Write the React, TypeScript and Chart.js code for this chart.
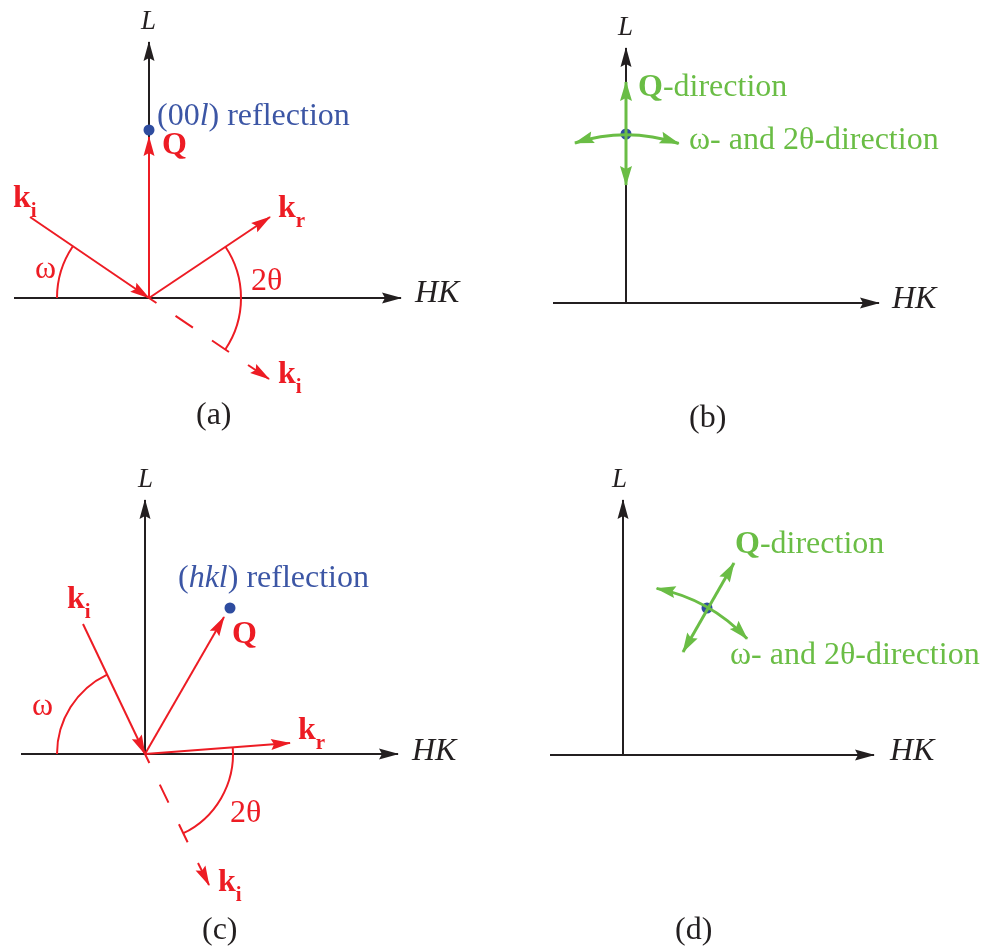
import React, { useEffect, useRef } from 'react';
import { Chart, registerables } from 'chart.js';

Chart.register(...registerables);

const W = 983;
const H = 949;
const BLACK = '#231f20';
const RED = '#ed1c24';
const BLUE = '#2e4c9f';
const BLUE_TEXT = '#3c56a5';
const GREEN = '#6abd45';
const FONT = '"Liberation Serif", "Times New Roman", serif';
const FS = 32;
const SUB_FS = 21;
const L_FS = 27;

// Axes [x1, y1, x2, y2] (arrowhead at x2, y2)
const axisLines: number[][] = [
  [149, 298, 149, 42], [14, 298, 401, 298],
  [626, 303, 626, 48], [553, 303, 879, 303],
  [145, 754, 145, 500], [21, 754, 398, 754],
  [623, 755, 623, 500], [550, 755, 874, 755],
];

// Red scattering vectors [x1, y1, x2, y2] (arrowhead at x2, y2)
const redVectors: number[][] = [
  [149, 298, 149, 137],
  [30, 217, 149, 298],
  [149, 298, 270, 217],
  [248, 365, 269, 379],
  [145, 754, 224, 617],
  [83, 624, 145, 754],
  [145, 754, 290, 743],
  [198, 863, 209, 885],
];

// Dashed continuation of incoming beam [x1, y1, x2, y2]
const dashedRays: number[][] = [
  [149, 298, 229, 352],
  [145, 754, 188, 843],
];
const dashPatterns: number[][] = [[21, 23], [20, 24]];
const dashOffsets: number[] = [12, 10];

// Reflection positions
const reflections = [
  { x: 149, y: 130 },
  { x: 230, y: 608 },
  { x: 626, y: 134 },
  { x: 707, y: 608 },
];

// Green double arrows (Q-direction)
const greenDoubleArrows: number[][] = [
  [626, 82, 626, 185],
  [734, 563, 683, 652],
];

// Angle arcs (centre, radius, from / to angle in screen degrees)
const redArcs = [
  { cx: 149, cy: 298, r: 92, from: 180, to: 214 },
  { cx: 149, cy: 298, r: 92, from: -34, to: 34 },
  { cx: 145, cy: 754, r: 88, from: 180, to: 244.5 },
  { cx: 145, cy: 754, r: 88, from: -4.3, to: 64.5 },
];
const greenArcs = [
  { cx: 626, cy: 303, r: 168, from: -107.7, to: -71.7 },
  { cx: 623, cy: 755, r: 170, from: -78.6, to: -43.1 },
];

type Run = { t: string; b?: boolean; i?: boolean; sub?: boolean; s?: number };
type Label = { x: number; y: number; c: string; runs: Run[] };

const kLabel = (x: number, y: number, s: string): Label => ({
  x, y, c: RED, runs: [{ t: 'k', b: true }, { t: s, b: true, sub: true }],
});
const lLabel = (x: number, y: number): Label => ({
  x, y, c: BLACK, runs: [{ t: 'L', i: true, s: L_FS }],
});

const labels: Label[] = [
  // (a)
  lLabel(141, 29),
  { x: 157, y: 125, c: BLUE_TEXT, runs: [{ t: '(00' }, { t: 'l', i: true }, { t: ') reflection' }] },
  { x: 162, y: 154, c: RED, runs: [{ t: 'Q', b: true }] },
  kLabel(13, 207, 'i'),
  kLabel(278, 217, 'r'),
  { x: 35, y: 278, c: RED, runs: [{ t: 'ω' }] },
  { x: 251, y: 290, c: RED, runs: [{ t: '2θ' }] },
  { x: 415, y: 302, c: BLACK, runs: [{ t: 'HK', i: true }] },
  kLabel(278, 383, 'i'),
  { x: 196, y: 424, c: BLACK, runs: [{ t: '(a)' }] },
  // (b)
  lLabel(618, 35),
  { x: 638, y: 96, c: GREEN, runs: [{ t: 'Q', b: true }, { t: '-direction' }] },
  { x: 689, y: 149, c: GREEN, runs: [{ t: 'ω- and 2θ-direction' }] },
  { x: 892, y: 308, c: BLACK, runs: [{ t: 'HK', i: true }] },
  { x: 689, y: 427, c: BLACK, runs: [{ t: '(b)' }] },
  // (c)
  lLabel(138, 487),
  { x: 178, y: 587, c: BLUE_TEXT, runs: [{ t: '(' }, { t: 'hkl', i: true }, { t: ') reflection' }] },
  { x: 232, y: 643, c: RED, runs: [{ t: 'Q', b: true }] },
  kLabel(67, 608, 'i'),
  { x: 32, y: 715, c: RED, runs: [{ t: 'ω' }] },
  kLabel(298, 739, 'r'),
  { x: 412, y: 760, c: BLACK, runs: [{ t: 'HK', i: true }] },
  { x: 230, y: 822, c: RED, runs: [{ t: '2θ' }] },
  kLabel(218, 891, 'i'),
  { x: 202, y: 939, c: BLACK, runs: [{ t: '(c)' }] },
  // (d)
  lLabel(612, 487),
  { x: 735, y: 553, c: GREEN, runs: [{ t: 'Q', b: true }, { t: '-direction' }] },
  { x: 730, y: 664, c: GREEN, runs: [{ t: 'ω- and 2θ-direction' }] },
  { x: 890, y: 760, c: BLACK, runs: [{ t: 'HK', i: true }] },
  { x: 675, y: 939, c: BLACK, runs: [{ t: '(d)' }] },
];

function seg(s: number[], color: string, width: number, extra: any = {}) {
  return {
    type: 'scatter',
    data: [{ x: s[0], y: s[1] }, { x: s[2], y: s[3] }],
    showLine: true,
    borderColor: color,
    backgroundColor: color,
    borderWidth: width,
    borderCapStyle: 'butt',
    pointRadius: 0,
    pointHoverRadius: 0,
    clip: false,
    ...extra,
  };
}

function drawHead(ctx: CanvasRenderingContext2D, fx: number, fy: number, tx: number, ty: number, len: number, half: number, color: string) {
  const dx = tx - fx;
  const dy = ty - fy;
  const d = Math.hypot(dx, dy) || 1;
  const ux = dx / d;
  const uy = dy / d;
  const nx = -uy;
  const ny = ux;
  const tipx = tx + ux * 1;
  const tipy = ty + uy * 1;
  const bx = tipx - ux * len;
  const by = tipy - uy * len;
  const nbx = tipx - ux * len * 0.85;
  const nby = tipy - uy * len * 0.85;
  ctx.save();
  ctx.fillStyle = color;
  ctx.beginPath();
  ctx.moveTo(tipx, tipy);
  ctx.lineTo(bx + nx * half, by + ny * half);
  ctx.lineTo(nbx, nby);
  ctx.lineTo(bx - nx * half, by - ny * half);
  ctx.closePath();
  ctx.fill();
  ctx.restore();
}

const diagramPlugin = {
  id: 'diagram',
  afterDatasetsDraw(chart: any) {
    const ctx: CanvasRenderingContext2D = chart.ctx;
    const xs = chart.scales.x;
    const ys = chart.scales.y;
    const px = (v: number) => xs.getPixelForValue(v);
    const py = (v: number) => ys.getPixelForValue(v);

    const drawArc = (a: any, color: string, width: number, heads: boolean) => {
      const cx = px(a.cx);
      const cy = py(a.cy);
      const r = Math.abs(px(a.cx + a.r) - cx);
      const a1 = (a.from * Math.PI) / 180;
      const a2 = (a.to * Math.PI) / 180;
      ctx.save();
      ctx.strokeStyle = color;
      ctx.lineWidth = width;
      ctx.beginPath();
      ctx.arc(cx, cy, r, a1, a2, false);
      ctx.stroke();
      ctx.restore();
      if (heads) {
        const e2x = cx + r * Math.cos(a2);
        const e2y = cy + r * Math.sin(a2);
        drawHead(ctx, e2x + Math.sin(a2) * 10, e2y - Math.cos(a2) * 10, e2x, e2y, 20, 6, color);
        const e1x = cx + r * Math.cos(a1);
        const e1y = cy + r * Math.sin(a1);
        drawHead(ctx, e1x - Math.sin(a1) * 10, e1y + Math.cos(a1) * 10, e1x, e1y, 20, 6, color);
      }
    };

    redArcs.forEach((a) => drawArc(a, RED, 2, false));
    greenArcs.forEach((a) => drawArc(a, GREEN, 3, true));

    chart.data.datasets.forEach((ds: any, i: number) => {
      if (!ds.headEnd && !ds.headStart) return;
      const pts = chart.getDatasetMeta(i).data;
      if (pts.length < 2) return;
      const p0 = pts[0];
      const p1 = pts[1];
      if (ds.headEnd) drawHead(ctx, p0.x, p0.y, p1.x, p1.y, ds.headLen, ds.headHalf, ds.borderColor);
      if (ds.headStart) drawHead(ctx, p1.x, p1.y, p0.x, p0.y, ds.headLen, ds.headHalf, ds.borderColor);
    });

    ctx.save();
    ctx.textBaseline = 'alphabetic';
    ctx.textAlign = 'left';
    labels.forEach((lab) => {
      let x = px(lab.x);
      const y = py(lab.y);
      ctx.fillStyle = lab.c;
      lab.runs.forEach((r) => {
        const size = r.s ? r.s : r.sub ? SUB_FS : FS;
        ctx.font = `${r.i ? 'italic ' : ''}${r.b ? 'bold ' : ''}${size}px ${FONT}`;
        const yy = r.sub ? y + 10 : y;
        ctx.fillText(r.t, x, yy);
        x += ctx.measureText(r.t).width;
      });
    });
    ctx.restore();
  },
};

export default function App() {
  const ref = useRef<HTMLCanvasElement | null>(null);

  useEffect(() => {
    if (!ref.current) return;
    const datasets: any[] = [];
    greenDoubleArrows.forEach((s) =>
      datasets.push(seg(s, GREEN, 3, { order: 0, headEnd: true, headStart: true, headLen: 20, headHalf: 6 }))
    );
    datasets.push({
      type: 'scatter',
      data: reflections,
      pointRadius: 5.5,
      pointHoverRadius: 5.5,
      pointBorderWidth: 0,
      backgroundColor: BLUE,
      borderColor: BLUE,
      showLine: false,
      order: 1,
      clip: false,
    });
    redVectors.forEach((s) =>
      datasets.push(seg(s, RED, 2, { order: 2, headEnd: true, headLen: 20, headHalf: 5.5 }))
    );
    dashedRays.forEach((s, i) =>
      datasets.push(seg(s, RED, 2, { order: 2, borderDash: dashPatterns[i], borderDashOffset: dashOffsets[i] }))
    );
    axisLines.forEach((s) =>
      datasets.push(seg(s, BLACK, 2, { order: 3, headEnd: true, headLen: 20, headHalf: 5.5 }))
    );

    const chart = new Chart(ref.current, {
      type: 'scatter',
      data: { datasets },
      options: {
        animation: false,
        responsive: false,
        maintainAspectRatio: false,
        devicePixelRatio: 1,
        events: [],
        layout: { padding: 0, autoPadding: false },
        scales: {
          x: { type: 'linear', min: 0, max: W, display: false },
          y: { type: 'linear', min: 0, max: H, reverse: true, display: false },
        },
        plugins: { legend: { display: false }, tooltip: { enabled: false }, title: { display: false } },
      },
      plugins: [diagramPlugin],
    } as any);
    return () => chart.destroy();
  }, []);

  return (
    <div style={{ position: 'absolute', left: 0, top: 0, width: W, height: H, background: '#ffffff' }}>
      <canvas ref={ref} width={W} height={H} style={{ display: 'block', width: W, height: H }} />
    </div>
  );
}
